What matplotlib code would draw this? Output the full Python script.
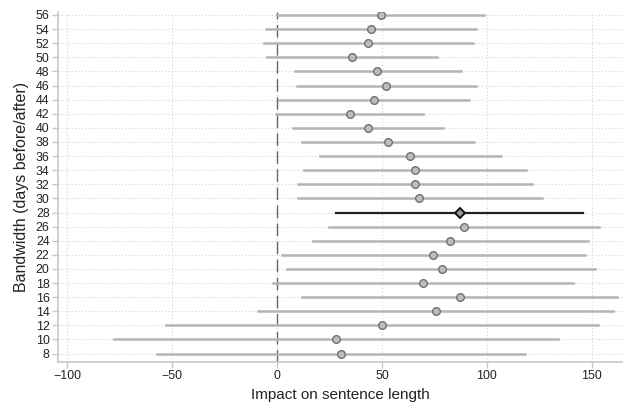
import numpy as np
import matplotlib.pyplot as plt

plt.rcParams['font.family'] = ['Liberation Sans', 'DejaVu Sans']

# Bandwidth (days before/after) and estimates with confidence bounds
bandwidth = [8, 10, 12, 14, 16, 18, 20, 22, 24, 26, 28, 30, 32, 34, 36,
             38, 40, 42, 44, 46, 48, 50, 52, 54, 56]
estimate = [30.3, 27.9, 49.8, 75.6, 87.0, 69.5, 78.4, 74.4, 82.5, 89.0, 87.1, 67.8, 65.6, 65.9, 63.3,
            52.9, 43.3, 34.6, 46.2, 52.1, 47.8, 35.6, 43.5, 44.8, 49.4]
lower = [-57.1, -77.6, -53.0, -9.0, 12.1, -2.1, 4.8, 2.4, 17.1, 24.8, 28.3, 9.8, 9.8, 13.0, 20.5,
         12.1, 7.8, -0.5, 1.0, 9.5, 8.4, -4.9, -6.3, -5.2, 0.0]
upper = [117.9, 133.7, 152.7, 160.2, 161.9, 141.1, 151.7, 146.7, 147.9, 153.5, 145.7, 126.0, 121.3, 118.6, 106.5,
         93.7, 78.9, 69.7, 91.6, 94.6, 87.5, 76.2, 93.5, 94.8, 98.7]
highlight = 28

fig = plt.figure(figsize=(6.23, 4.05), dpi=100)
ax = fig.add_axes([0.093, 0.106, 0.907, 0.864])

for b, e, lo, hi in zip(bandwidth, estimate, lower, upper):
    if b == highlight:
        ax.plot([lo, hi], [b, b], color='#222222', lw=1.6, zorder=3)
        ax.plot(e, b, marker='D', ms=5, mfc='#999999', mec='#111111', mew=1.4, zorder=4)
    else:
        ax.plot([lo, hi], [b, b], color='#b4b4b4', lw=1.8, zorder=2)
        ax.plot(e, b, marker='o', ms=5.5, mfc='#bdbdbd', mec='#707070', mew=1.0, zorder=4)

ax.axvline(0, color='#666666', lw=1.0, ls=(0, (9, 4)), zorder=1)

ax.set_xlim(-104.3, 164.8)
ax.set_ylim(6.8, 56.4)
ax.set_xticks([-100, -50, 0, 50, 100, 150])
ax.set_yticks(bandwidth)
ax.grid(True, color='#d4d4d4', ls=(0, (1, 2)), lw=0.8)
ax.set_axisbelow(True)

for s in ['top', 'right']:
    ax.spines[s].set_visible(False)
for s in ['left', 'bottom']:
    ax.spines[s].set_color('#c8c8c8')
    ax.spines[s].set_linewidth(1.2)
ax.tick_params(axis='both', colors='#c8c8c8', labelcolor='#222222', labelsize=8.9, length=4, width=1, pad=2)

ax.set_xlabel('Impact on sentence length', fontsize=11, color='#222222', labelpad=4)
ax.set_ylabel('Bandwidth (days before/after)', fontsize=11.5, color='#222222', labelpad=5)

fig.savefig('out.png', dpi=100)
